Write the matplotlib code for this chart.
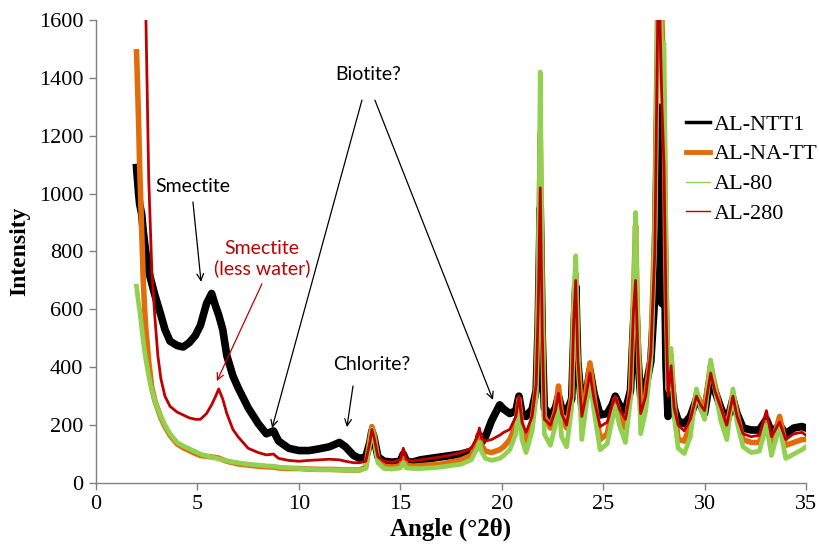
import numpy as np
import matplotlib
matplotlib.use("Agg")
import matplotlib.pyplot as plt
from matplotlib.lines import Line2D

angle = [2.0, 2.1, 2.15, 2.25, 2.33, 2.4, 2.45, 2.5, 2.6, 2.75, 2.9, 3.05, 3.2, 3.4, 3.65,
         4.0, 4.3, 4.6, 4.9, 5.15, 5.45, 5.7, 5.9, 6.05, 6.25, 6.45, 6.75, 7.0, 7.5, 8.0,
         8.4, 8.75, 9.0, 9.5, 10.0, 10.5, 11.0, 11.5, 12.0, 12.3, 12.7, 13.0, 13.3, 13.5,
         13.6, 13.7, 13.9, 14.2, 14.6, 15.0, 15.15, 15.3, 15.6, 16.0, 16.5, 17.0, 17.5,
         18.0, 18.5, 18.8, 18.9, 19.0, 19.2, 19.5, 19.9, 20.1, 20.4, 20.7, 20.85, 21.0,
         21.2, 21.5, 21.7, 21.8, 21.9, 22.0, 22.1, 22.4, 22.65, 22.8, 22.95, 23.2, 23.45,
         23.55, 23.65, 23.75, 23.95, 24.15, 24.35, 24.55, 24.85, 25.2, 25.45, 25.6, 25.8,
         26.1, 26.35, 26.5, 26.6, 26.7, 26.85, 27.1, 27.35, 27.55, 27.7, 27.8, 27.9, 28.0,
         28.1, 28.2, 28.35, 28.5, 28.7, 29.0, 29.3, 29.6, 29.8, 30.0, 30.3, 30.5, 30.8,
         31.1, 31.4, 31.6, 31.9, 32.3, 32.7, 33.05, 33.3, 33.7, 34.0, 34.4, 34.8, 35.0]

al_ntt1 = [1090, 1000, 965, 930, 870, 830, 800, 780, 730, 690, 650, 615, 580, 530, 490,
           475, 470, 485, 510, 545, 620, 655, 610, 580, 530, 440, 370, 330, 260, 205,
           170, 180, 145, 120, 112, 112, 118, 125, 140, 125, 95, 85, 90, 140,
           180, 160, 90, 75, 72, 75, 100, 75, 72, 80, 85, 90, 95,
           100, 110, 130, 165, 140, 160, 215, 270, 255, 240, 250, 300, 240,
           230, 255, 320, 550, 950, 500, 260, 230, 260, 300, 260, 245, 290,
           500, 680, 420, 260, 300, 390, 310, 235, 240, 270, 300, 270,
           250, 320, 550, 640, 450, 300, 330, 420, 650, 1300, 1100, 620, 900,
           400, 230, 350, 260, 215, 205, 230, 290, 270, 240, 370, 320, 260,
           210, 290, 240, 190, 183, 183, 220, 175, 200, 170, 190, 195, 190]

al_na_tt = [1490, 1250, 1100, 880, 700, 600, 540, 500, 420, 330, 285, 255, 225, 195, 165,
            135, 122, 112, 102, 95, 92, 90, 88, 86, 80, 75, 70, 66, 62, 58,
            56, 55, 52, 50, 50, 48, 47, 47, 46, 45, 45, 45, 55, 150,
            195, 170, 80, 58, 55, 60, 85, 62, 58, 60, 62, 65, 72,
            80, 95, 140, 170, 130, 110, 105, 115, 125, 150, 200, 290, 190,
            140, 215, 330, 650, 1210, 600, 230, 190, 250, 335, 230, 190, 300,
            600, 725, 450, 220, 310, 415, 300, 150, 170, 250, 290, 240,
            190, 320, 650, 890, 550, 250, 300, 450, 900, 1700, 1700, 1600, 1300,
            700, 330, 440, 270, 150, 145, 200, 310, 280, 260, 410, 340, 250,
            190, 310, 240, 150, 140, 140, 210, 130, 230, 130, 140, 150, 150]

al_80 = [680, 620, 600, 540, 490, 455, 430, 410, 370, 320, 285, 255, 230, 200, 170,
         140, 128, 118, 108, 100, 93, 90, 86, 83, 80, 76, 72, 70, 65, 62,
         59, 58, 55, 52, 50, 47, 46, 46, 45, 45, 45, 45, 50, 140,
         185, 160, 70, 50, 48, 52, 70, 52, 50, 50, 52, 55, 60,
         65, 80, 120, 140, 110, 85, 78, 85, 95, 115, 170, 265, 150,
         105, 180, 300, 620, 1420, 650, 170, 130, 200, 290, 160, 125, 260,
         620, 785, 460, 150, 260, 360, 250, 115, 135, 220, 265, 200,
         140, 290, 650, 935, 580, 170, 250, 420, 850, 1700, 1700, 1500, 1520,
         800, 320, 465, 230, 120, 102, 160, 325, 260, 220, 425, 330, 215,
         150, 325, 210, 125, 105, 110, 200, 95, 200, 85, 100, 115, 125]

al_280 = [np.nan, np.nan, np.nan, np.nan, np.nan, 1750, 1650, 1450, 1050, 740, 575, 440, 360, 300, 265,
          245, 235, 225, 220, 220, 240, 270, 300, 325, 290, 240, 185, 160, 120, 105,
          97, 100, 85, 78, 75, 78, 80, 82, 80, 75, 70, 70, 75, 140,
          185, 160, 90, 75, 72, 80, 120, 82, 75, 80, 85, 90, 97,
          105, 120, 160, 190, 155, 145, 150, 165, 175, 185, 230, 300, 210,
          175, 230, 340, 600, 1020, 520, 220, 200, 250, 310, 240, 200, 300,
          560, 700, 430, 230, 300, 380, 290, 195, 210, 270, 300, 255,
          220, 320, 600, 700, 480, 240, 300, 450, 800, 1650, 1600, 1300, 1100,
          600, 300, 405, 260, 200, 180, 220, 300, 270, 250, 380, 320, 260,
          200, 300, 230, 170, 160, 165, 250, 160, 210, 150, 170, 175, 165]

series_names = ["AL-NTT1", "AL-NA-TT", "AL-80", "AL-280"]
x_ticks = [0, 5, 10, 15, 20, 25, 30, 35]
y_ticks = [0, 200, 400, 600, 800, 1000, 1200, 1400, 1600]

fig = plt.figure(figsize=(8.19, 5.45), dpi=100)
ax = fig.add_axes([0.1172, 0.1138, 0.8669, 0.8495])

c_black = "#000000"
c_orange = "#E36C0A"
c_green = "#92D050"
c_red = "#C00000"

ax.plot(angle, al_ntt1, color=c_black, lw=5.5, solid_joinstyle="round", zorder=2)
ax.plot(angle, al_na_tt, color=c_orange, lw=4.0, solid_joinstyle="round", zorder=3)
ax.plot(angle, al_80, color=c_green, lw=3.4, solid_joinstyle="round", zorder=4)
ax.plot(angle, al_280, color=c_red, lw=2.0, solid_joinstyle="round", zorder=5)

ax.set_xlim(0, 35)
ax.set_ylim(0, 1600)
ax.set_xticks(x_ticks)
ax.set_yticks(y_ticks)
serif = "Liberation Serif"
ax.set_xticklabels([str(v) for v in x_ticks], fontfamily=serif, fontsize=16)
ax.set_yticklabels([str(v) for v in y_ticks], fontfamily=serif, fontsize=16)
ax.tick_params(axis="both", direction="out", length=5, color="#808080", width=1, pad=4)
for s in ["top", "right"]:
    ax.spines[s].set_visible(False)
for s in ["left", "bottom"]:
    ax.spines[s].set_color("#808080")
    ax.spines[s].set_linewidth(1)

ax.set_xlabel("Angle (°2θ)", fontfamily=serif, fontsize=18, fontweight="bold", labelpad=2)
ax.set_ylabel("Intensity", fontfamily=serif, fontsize=17, fontweight="bold", labelpad=6)

handles = [Line2D([], [], color=c_black, lw=2.5),
           Line2D([], [], color=c_orange, lw=3.5),
           Line2D([], [], color=c_green, lw=1.0),
           Line2D([], [], color=c_red, lw=1.0)]
leg = fig.legend(handles, series_names, loc="upper left",
                 bbox_to_anchor=(686 / 819, 1 - 114 / 545),
                 frameon=False, prop={"family": serif, "size": 16},
                 handlelength=1.1, handletextpad=0.15, labelspacing=0.42,
                 borderaxespad=0, borderpad=0)

sans = "Lato"
ap_black = dict(arrowstyle="->", color="black", lw=0.9, shrinkA=0, shrinkB=0,
                mutation_scale=12)
ap_red = dict(arrowstyle="->", color=c_red, lw=0.9, shrinkA=0, shrinkB=0,
              mutation_scale=12)

fs_ann = 14
ax.text(13.41, 1410, "Biotite?", fontfamily=sans, fontsize=fs_ann, ha="center", va="center")
ax.annotate("", xy=(8.68, 190), xytext=(13.11, 1323), arrowprops=ap_black)
ax.annotate("", xy=(19.57, 287), xytext=(13.75, 1323), arrowprops=ap_black)

ax.text(4.78, 1023, "Smectite", fontfamily=sans, fontsize=fs_ann, ha="center", va="center")
ax.annotate("", xy=(5.18, 695), xytext=(4.78, 971), arrowprops=ap_black)

ax.text(8.18, 777, "Smectite\n(less water)", fontfamily=sans, fontsize=fs_ann,
        ha="center", va="center", color=c_red, linespacing=1.15)
ax.annotate("", xy=(5.96, 352), xytext=(8.18, 688), arrowprops=ap_red)

ax.text(13.6, 411, "Chlorite?", fontfamily=sans, fontsize=fs_ann, ha="center", va="center")
ax.annotate("", xy=(12.37, 193), xytext=(12.67, 335), arrowprops=ap_black)

fig.savefig("out.png", dpi=100)
